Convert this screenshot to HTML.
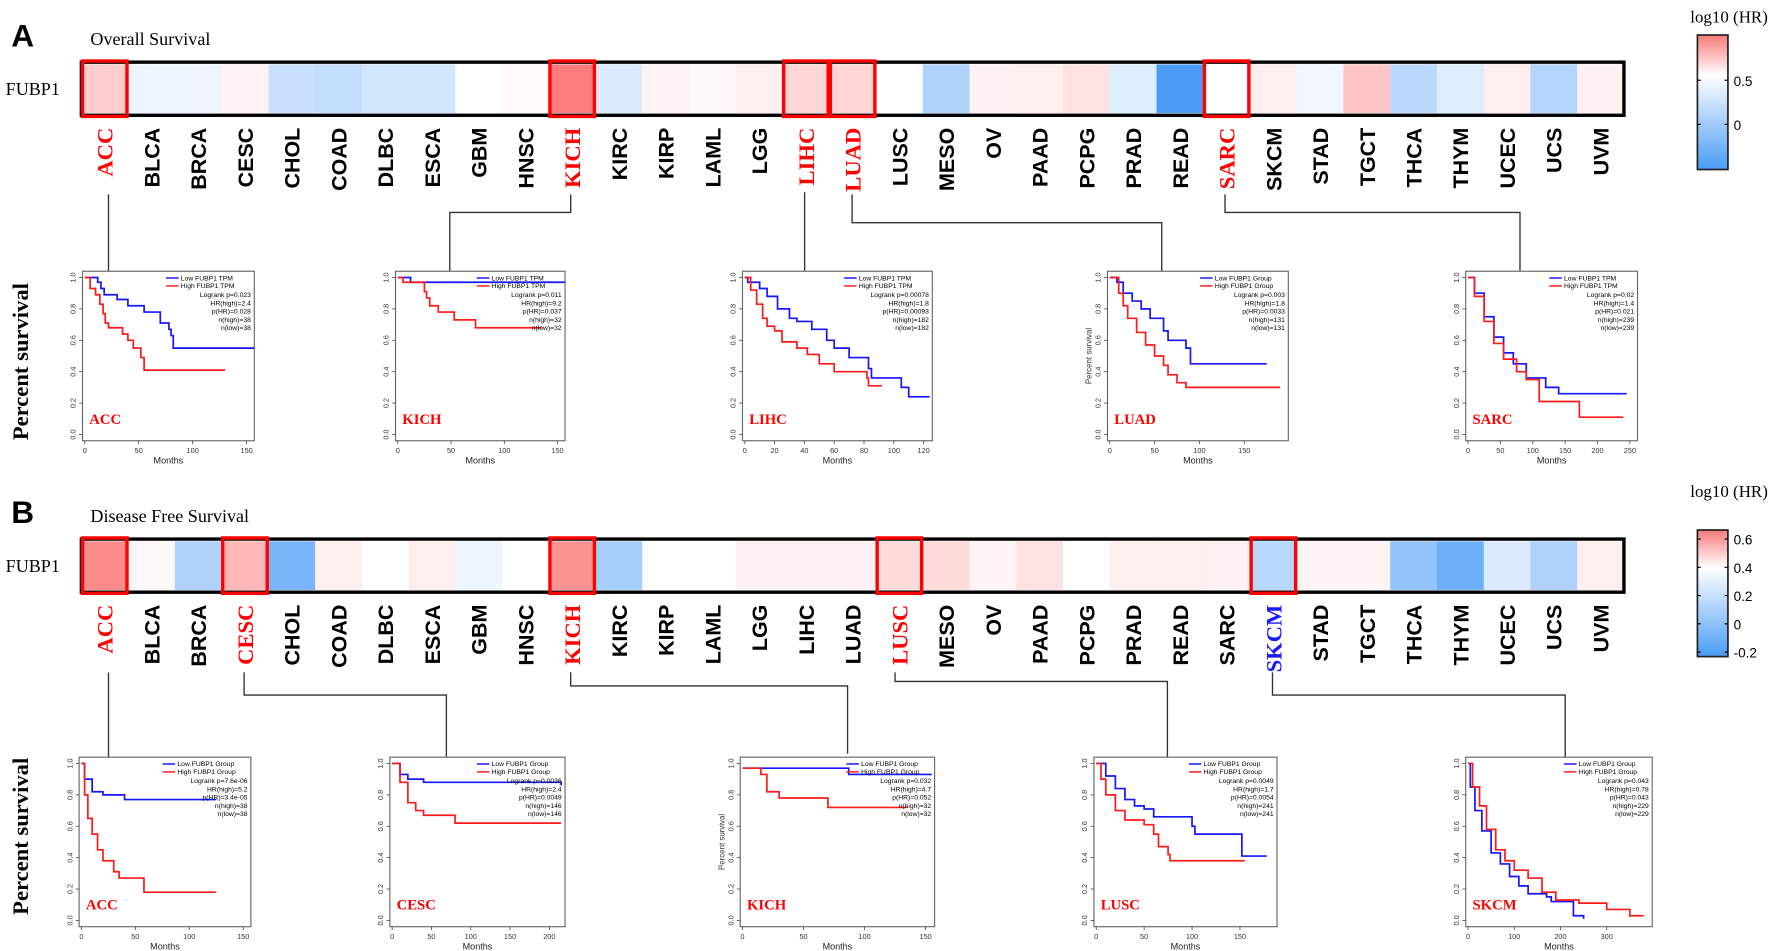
<!DOCTYPE html>
<html><head><meta charset="utf-8"><style>
html,body{margin:0;padding:0;background:#fff;}
svg{display:block;}
</style></head><body>
<svg id="fig" xmlns="http://www.w3.org/2000/svg" width="1772" height="951" viewBox="0 0 1568 841.5" preserveAspectRatio="none">
<g id="root"></g>
</svg>
<script>
const cancers = ["ACC","BLCA","BRCA","CESC","CHOL","COAD","DLBC","ESCA","GBM","HNSC","KICH","KIRC","KIRP","LAML","LGG","LIHC","LUAD","LUSC","MESO","OV","PAAD","PCPG","PRAD","READ","SARC","SKCM","STAD","TGCT","THCA","THYM","UCEC","UCS","UVM"];
const osValues = [0.35,-0.1,-0.1,0.08,-0.3,-0.33,-0.25,-0.25,0,0.04,0.9,-0.2,0.08,0.05,0.12,0.3,0.3,0,-0.45,0.1,0.12,0.2,-0.18,-1,0,0.12,-0.08,0.4,-0.38,-0.18,0.12,-0.42,0.1];
const dfsValues = [0.8,0.05,-0.45,0.5,-0.75,0.12,0,0.12,-0.1,0,0.75,-0.5,0,0,0.1,0.1,0.1,0.25,0.25,0.08,0.2,0,0.12,0.12,0.1,-0.4,0.08,0.08,-0.6,-0.8,-0.2,-0.45,0.12];
const osHighlight = ["ACC","KICH","LIHC","LUAD","SARC"];
const dfsHighlight = ["ACC","CESC","KICH","LUSC","SKCM"];
const osTicks = ["0.5","0"];
const dfsTicks = ["0.6","0.4","0.2","0","-0.2"];

const kmA_ACC_low = [[0,1],[12,.97],[15,.93],[18,.89],[30,.86],[40,.82],[55,.78],[70,.71],[78,.67],[80,.63],[82,.55],[157,.55]];
const kmA_ACC_high = [[0,1],[5,.93],[10,.89],[14,.83],[17,.77],[19,.71],[22,.68],[35,.64],[40,.6],[45,.55],[52,.49],[55,.41],[130,.41]];
const kmA_KICH_low = [[0,1],[12,.97],[157,.97]];
const kmA_KICH_high = [[0,1],[5,.97],[25,.91],[27,.87],[30,.82],[38,.78],[53,.73],[73,.68],[135,.68]];
const kmA_LIHC_low = [[0,1],[2,.97],[10,.93],[15,.88],[22,.8],[30,.74],[35,.72],[45,.67],[55,.6],[60,.55],[70,.49],[83,.42],[85,.36],[105,.3],[110,.24],[124,.24]];
const kmA_LIHC_high = [[0,1],[4,.92],[8,.83],[12,.74],[15,.69],[20,.66],[25,.59],[35,.55],[42,.51],[50,.45],[60,.4],[82,.36],[83,.31],[92,.31]];
const kmA_LUAD_low = [[0,1],[8,.97],[15,.9],[25,.85],[35,.8],[45,.74],[60,.66],[65,.6],[85,.55],[90,.45],[175,.45]];
const kmA_LUAD_high = [[0,1],[10,.9],[15,.82],[20,.74],[30,.65],[40,.57],[50,.5],[60,.44],[65,.38],[75,.33],[85,.3],[190,.3]];
const kmA_SARC_low = [[0,1],[10,.9],[25,.75],[40,.62],[55,.52],[70,.45],[90,.36],[120,.3],[140,.26],[245,.26]];
const kmA_SARC_high = [[0,1],[10,.88],[25,.72],[40,.58],[55,.48],[75,.4],[90,.35],[110,.21],[170,.21],[172,.11],[240,.11]];
const kmB_ACC_low = [[0,1],[3,.9],[10,.82],[20,.8],[40,.77],[125,.77]];
const kmB_ACC_high = [[0,1],[3,.8],[6,.65],[10,.55],[15,.45],[20,.38],[30,.31],[35,.27],[55,.27],[58,.18],[125,.18]];
const kmB_CESC_low = [[0,1],[10,.93],[20,.9],[40,.88],[215,.86]];
const kmB_CESC_high = [[0,1],[10,.88],[20,.75],[30,.7],[40,.67],[80,.62],[215,.62]];
const kmB_KICH_low = [[0,.97],[85,.97],[87,.93],[155,.93]];
const kmB_KICH_high = [[0,.97],[15,.93],[20,.82],[30,.78],[70,.72],[135,.72]];
const kmB_LUSC_low = [[0,1],[10,.92],[20,.84],[30,.77],[40,.73],[50,.71],[60,.66],[97,.66],[100,.6],[103,.55],[150,.55],[152,.41],[178,.41]];
const kmB_LUSC_high = [[0,1],[5,.9],[10,.8],[20,.7],[30,.64],[50,.61],[60,.55],[65,.47],[75,.42],[77,.38],[155,.38]];
const kmB_SKCM_low = [[0,1],[5,.85],[15,.7],[30,.57],[50,.43],[70,.36],[90,.28],[110,.22],[130,.17],[170,.15],[180,.12],[225,.12],[228,.03],[250,.01]];
const kmB_SKCM_high = [[0,1],[10,.85],[25,.73],[40,.58],[60,.45],[80,.38],[100,.32],[130,.27],[160,.18],[190,.13],[240,.11],[300,.07],[350,.03],[380,.03]];

const NS="http://www.w3.org/2000/svg";
const root=document.getElementById('root');
function mk(tag,attrs,parent,text){const e=document.createElementNS(NS,tag);for(const k in attrs)e.setAttribute(k,attrs[k]);if(text!==undefined)e.textContent=text;(parent||root).appendChild(e);return e;}
function colorOf(v){
  let c0=[255,255,255],c1;
  if(v>=0){c1=[250,110,110];}else{c1=[74,156,245];v=-v;}
  v=Math.min(1,v);
  const c=c0.map((a,i)=>Math.round(a+(c1[i]-a)*v));
  return `rgb(${c[0]},${c[1]},${c[2]})`;
}
const hmX=72,hmW=1365,cw=hmW/cancers.length;
function xCell(i){return hmX+i*cw;}

function heatmap(values,highlight,top,letter,title,panel,labelColorFn){
  let t;
  t=mk('text',{x:10,y:top-14,'font-family':'Liberation Sans, sans-serif','font-weight':'bold','font-size':28},root,letter);
  
  t=mk('text',{x:80,y:top-15,'font-family':'Liberation Serif, serif','font-size':16},root,title);
  
  t=mk('text',{x:5,y:top+29,'font-family':'Liberation Serif, serif','font-size':16},root,'FUBP1');
  
  const g=mk('g',{});
  
  values.forEach((v,i)=>{
    const r=mk('rect',{x:xCell(i),y:top+2,width:cw+0.5,height:43,fill:colorOf(v)},g);
    
    
  });
  const b=mk('rect',{x:hmX,y:top,width:hmW,height:47,fill:'none',stroke:'#000','stroke-width':3},g);
  
  cancers.forEach((c,i)=>{
    const hi=highlight.indexOf(c)>=0;
    if(hi){
      const r=mk('rect',{x:xCell(i)+1,y:top-1,width:cw-2,height:49,fill:'none',stroke:'#f00','stroke-width':3},g);
      
    }
    const cx=xCell(i)+cw/2+7, ty=top+58;
    const col=labelColorFn(c,hi);
    const lt=mk('text',{x:cx,y:ty,transform:`rotate(-90 ${cx} ${ty})`,'text-anchor':'end','font-family':hi?'Liberation Serif, serif':'Liberation Sans, sans-serif','font-weight':'bold','font-size':hi?20:19,fill:col},root,c);
    
  });
}
heatmap(osValues,osHighlight,55,'A','Overall Survival','a',(c,hi)=>hi?'#f00':'#000');
heatmap(dfsValues,dfsHighlight,477,'B','Disease Free Survival','b',(c,hi)=>hi?(c==='SKCM'?'#1a1aff':'#f00'):'#000');

function colorbar(x,y,h,ticksText,tickYs,id,ly){
  const gid='grad'+id;
  const defs=mk('defs',{});
  const lg=mk('linearGradient',{id:gid,x1:0,y1:0,x2:0,y2:1},defs);
  mk('stop',{offset:'0','stop-color':'#fa7a7a'},lg);
  mk('stop',{offset:'0.3','stop-color':'#ffffff'},lg);
  mk('stop',{offset:'1','stop-color':'#4a9cf5'},lg);
  const r=mk('rect',{x:x,y:y,width:27,height:h,fill:`url(#${gid})`,stroke:'#222','stroke-width':1.5});
  
  const t=mk('text',{x:x+28,y:ly,'text-anchor':'middle','font-family':'Liberation Serif, serif','font-size':15},root,'log10 (HR)');
  
  ticksText.forEach((s,i)=>{
    const yy=tickYs[i];
    mk('line',{x1:x,x2:x+3,y1:yy,y2:yy,stroke:'#000'});
    mk('line',{x1:x+24,x2:x+27,y1:yy,y2:yy,stroke:'#000'});
    const tt=mk('text',{x:x+32,y:yy+5,'font-family':'Liberation Sans, sans-serif','font-size':12},root,s);
    
  });
}
colorbar(1502,31,119,osTicks,[71,110],'a',20);
colorbar(1502,469,112,dfsTicks,[477,502,527,552,577],'b',440);

const connA=[[[96,172],[96,240]],[[505,172],[505,188],[398,188],[398,240]],[[712,170],[712,240]],[[754,172],[754,197],[1028,197],[1028,240]],[[1084,172],[1084,188],[1345,188],[1345,240]]];
const connB=[[[96,595],[96,670]],[[216,595],[216,615],[395,615],[395,670]],[[505,595],[505,607],[750,607],[750,667]],[[792,595],[792,603],[1033,603],[1033,670]],[[1126,595],[1126,615],[1385,615],[1385,670]]];
connA.concat(connB).forEach(p=>{
  const l=mk('polyline',{points:p.map(q=>q.join(',')).join(' '),fill:'none',stroke:'#333','stroke-width':1.2});
  
});

[[25,320],[25,740]].forEach((p,i)=>{
  const t=mk('text',{x:p[0],y:p[1],transform:`rotate(-90 ${p[0]} ${p[1]})`,'text-anchor':'middle','font-family':'Liberation Serif, serif','font-weight':'bold','font-size':20},root,'Percent survival');
  
});

function km(x0,top,w,xmax,xticks,low,high,name,legLabel,stats,ylab){
  const h=150;
  const g=mk('g',{});
  
  const xd=xmax*1.04, sx=v=>x0+v/xd*w*0.98+2, sy=v=>top+h-((v+0.04)/1.08)*h;
  mk('rect',{x:x0,y:top,width:w,height:h,fill:'#fff',stroke:'#666','stroke-width':1},g);
  [0,0.2,0.4,0.6,0.8,1.0].forEach(v=>{
    const yy=sy(v);
    mk('line',{x1:x0-3,x2:x0,y1:yy,y2:yy,stroke:'#444','stroke-width':0.7},g);
    const tx=x0-6;
    mk('text',{x:tx,y:yy,transform:`rotate(-90 ${tx} ${yy})`,'text-anchor':'middle','font-family':'Liberation Sans, sans-serif','font-size':6.5,fill:'#333'},g,v.toFixed(1));
  });
  xticks.forEach(v=>{
    const xx=sx(v);
    mk('line',{x1:xx,x2:xx,y1:top+h,y2:top+h+3,stroke:'#444','stroke-width':0.7},g);
    mk('text',{x:xx,y:top+h+11,'text-anchor':'middle','font-family':'Liberation Sans, sans-serif','font-size':6.5,fill:'#333'},g,String(v));
  });
  mk('text',{x:x0+w/2,y:top+h+20,'text-anchor':'middle','font-family':'Liberation Sans, sans-serif','font-size':8,fill:'#222'},g,'Months');
  if(ylab){const tx=x0-14,ty=top+h/2;mk('text',{x:tx,y:ty,transform:`rotate(-90 ${tx} ${ty})`,'text-anchor':'middle','font-family':'Liberation Sans, sans-serif','font-size':7,fill:'#333'},g,'Percent survival');}
  function step(data,col,nm){
    let d='M'+sx(data[0][0])+','+sy(data[0][1]);
    for(let i=1;i<data.length;i++){d+=' H'+sx(data[i][0])+' V'+sy(data[i][1]);}
    const p=mk('path',{d:d,fill:'none',stroke:col,'stroke-width':1.5},g);
    
  }
  step(low,'#1515ff','low');step(high,'#ff1a1a','high');
  const lx=x0+w-3;
  mk('line',{x1:lx-75,x2:lx-64,y1:top+6,y2:top+6,stroke:'#1515ff','stroke-width':1.3},g);
  mk('line',{x1:lx-75,x2:lx-64,y1:top+13,y2:top+13,stroke:'#ff1a1a','stroke-width':1.3},g);
  mk('text',{x:lx-62,y:top+8,'font-family':'Liberation Sans, sans-serif','font-size':6},g,'Low FUBP1 '+legLabel);
  mk('text',{x:lx-62,y:top+15,'font-family':'Liberation Sans, sans-serif','font-size':6},g,'High FUBP1 '+legLabel);
  stats.forEach((s,i)=>mk('text',{x:lx,y:top+23+i*7.3,'text-anchor':'end','font-family':'Liberation Sans, sans-serif','font-size':6},g,s));
  mk('text',{x:x0+6,y:top+h-15,'font-family':'Liberation Serif, serif','font-weight':'bold','font-size':13,fill:'#f00'},g,name.split('-')[1]);
}
km(73,240,152,150,[0,50,100,150],kmA_ACC_low,kmA_ACC_high,'a-ACC','TPM',['Logrank p=0.023','HR(high)=2.4','p(HR)=0.028','n(high)=38','n(low)=38']);
km(350,240,150,150,[0,50,100,150],kmA_KICH_low,kmA_KICH_high,'a-KICH','TPM',['Logrank p=0.011','HR(high)=9.2','p(HR)=0.037','n(high)=32','n(low)=32']);
km(657,240,168,120,[0,20,40,60,80,100,120],kmA_LIHC_low,kmA_LIHC_high,'a-LIHC','TPM',['Logrank p=0.00078','HR(high)=1.8','p(HR)=0.00093','n(high)=182','n(low)=182']);
km(980,240,160,190,[0,50,100,150],kmA_LUAD_low,kmA_LUAD_high,'a-LUAD','Group',['Logrank p=0.003','HR(high)=1.8','p(HR)=0.0033','n(high)=131','n(low)=131'],true);
km(1297,240,152,250,[0,50,100,150,200,250],kmA_SARC_low,kmA_SARC_high,'a-SARC','TPM',['Logrank p=0.02','HR(high)=1.4','p(HR)=0.021','n(high)=239','n(low)=239']);
km(70,670,152,150,[0,50,100,150],kmB_ACC_low,kmB_ACC_high,'b-ACC','Group',['Logrank p=7.6e-06','HR(high)=5.2','p(HR)=3.4e-05','n(high)=38','n(low)=38']);
km(345,670,155,210,[0,50,100,150,200],kmB_CESC_low,kmB_CESC_high,'b-CESC','Group',['Logrank p=0.0036','HR(high)=2.4','p(HR)=0.0049','n(high)=146','n(low)=146']);
km(655,670,172,150,[0,50,100,150],kmB_KICH_low,kmB_KICH_high,'b-KICH','Group',['Logrank p=0.032','HR(high)=4.7','p(HR)=0.052','n(high)=32','n(low)=32'],true);
km(968,670,162,180,[0,50,100,150],kmB_LUSC_low,kmB_LUSC_high,'b-LUSC','Group',['Logrank p=0.0049','HR(high)=1.7','p(HR)=0.0054','n(high)=241','n(low)=241']);
km(1297,670,165,380,[0,100,200,300],kmB_SKCM_low,kmB_SKCM_high,'b-SKCM','Group',['Logrank p=0.043','HR(high)=0.78','p(HR)=0.043','n(high)=229','n(low)=229']);
</script>
</body></html>
